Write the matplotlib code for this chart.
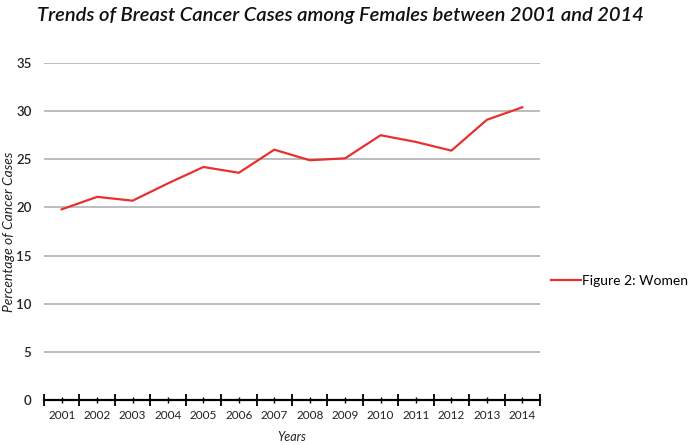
import matplotlib
matplotlib.use("Agg")
import matplotlib.pyplot as plt
import numpy as np
from matplotlib.ticker import FixedLocator

years = ["2001", "2002", "2003", "2004", "2005", "2006", "2007",
         "2008", "2009", "2010", "2011", "2012", "2013", "2014"]
women = [19.8, 21.1, 20.7, 22.5, 24.2, 23.6, 26.0,
         24.9, 25.1, 27.5, 26.8, 25.9, 29.1, 30.4]
yticks = [0, 5, 10, 15, 20, 25, 30, 35]

plt.rcParams['font.family'] = ['Lato', 'DejaVu Sans']

fig = plt.figure(figsize=(7.0, 4.45), dpi=100)
ax = fig.add_axes([44/700, 1 - 400/445, (540 - 44)/700, (400 - 63)/445])

x = np.arange(len(years))
line, = ax.plot(x, women, color='#e8312f', lw=1.6, label='Figure 2: Women')

ax.set_xlim(-0.5, len(years) - 0.5)
ax.set_ylim(0, 35)
ax.set_yticks(yticks)
ax.set_yticklabels([str(v) for v in yticks], fontsize=9.5, color='#222222',
                   fontweight='semibold')
ax.yaxis.grid(True, color='#b8b8b8', lw=1.3)
ax.set_axisbelow(True)
ax.tick_params(axis='y', length=0, pad=9)

ax.xaxis.set_major_locator(FixedLocator(np.arange(-0.5, len(years), 1.0)))
ax.xaxis.set_minor_locator(FixedLocator(x))
ax.set_xticklabels([])
ax.tick_params(axis='x', which='major', direction='inout', length=9, width=1.3, color='black')
ax.tick_params(axis='x', which='minor', direction='inout', length=4, width=1.0, color='black')
for xi, lab in zip(x, years):
    ax.text(xi, -1.0, lab, ha='center', va='top', fontsize=8.5, color='#222222')

for s in ['left', 'right', 'top']:
    ax.spines[s].set_visible(False)
ax.spines['bottom'].set_color('black')
ax.spines['bottom'].set_linewidth(1.6)

fig.text(340/700, 1 - 16/445, 'Trends of Breast Cancer Cases among Females between 2001 and 2014',
         ha='center', va='center', fontsize=14.5, style='italic', fontweight='semibold',
         color='#111111')
fig.text(9/700, 1 - 232/445, 'Percentage of Cancer Cases', rotation=90,
         ha='center', va='center', fontsize=10, style='italic', color='#222222')
fig.text(292/700, 1 - 437/445, 'Years', ha='center', va='center',
         fontsize=9, style='italic', color='#222222')

fig.legend(handles=[line], loc='center left', bbox_to_anchor=(545/700, 1 - 281/445),
           frameon=False, fontsize=10, handlelength=2.2, handletextpad=0.1,
           borderaxespad=0)

fig.savefig('out.png', dpi=100)
